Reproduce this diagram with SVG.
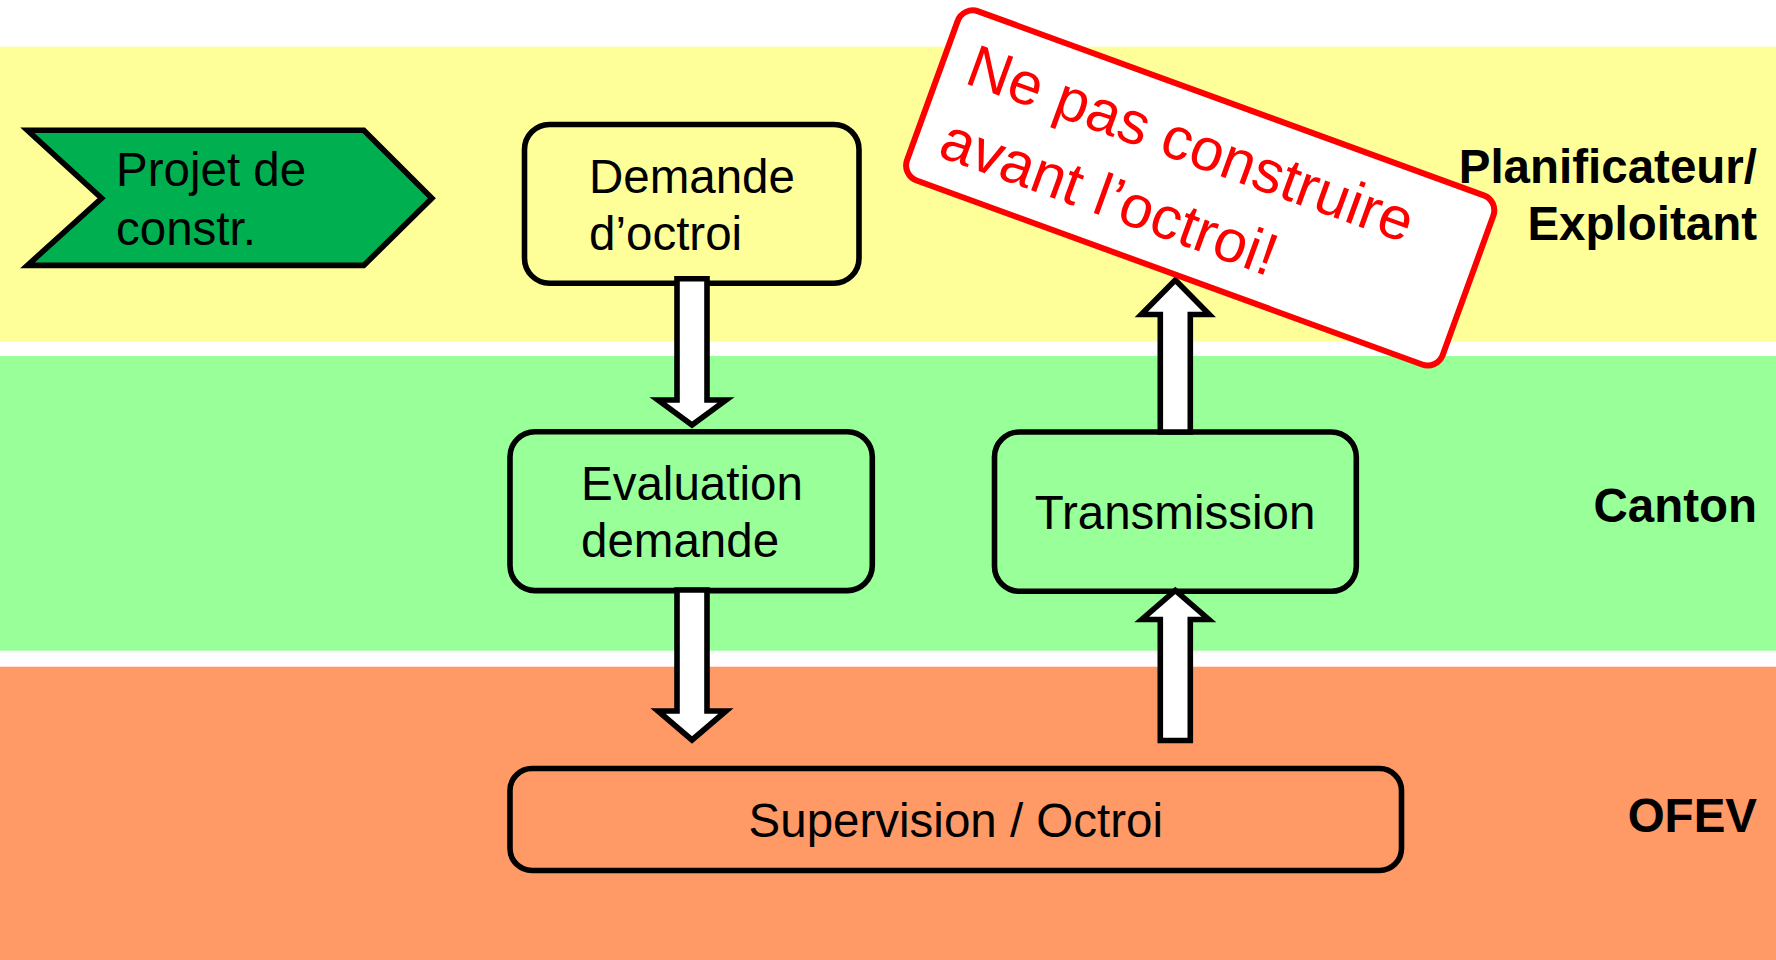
<svg xmlns="http://www.w3.org/2000/svg" width="1776" height="960" viewBox="0 0 1776 960">
  <style>
    .box { stroke: #000; stroke-width: 5.6; }
    .t { font-family: "Liberation Sans", Arial, sans-serif; font-size: 47.5px; fill: #000; }
    .lbl { font-family: "Liberation Sans", Arial, sans-serif; font-size: 47.5px; font-weight: bold; fill: #000; text-anchor: end; }
    .arrow { fill: #fff; stroke: #000; stroke-width: 5.6; stroke-linejoin: miter; }
    .sign { font-family: "Liberation Sans", Arial, sans-serif; font-size: 60px; fill: #ff0000; }
  </style>
  <rect x="0" y="0" width="1776" height="960" fill="#ffffff"/>
  <g id="bands">
    <rect x="0" y="46.7" width="1776" height="295" fill="#ffff99"/>
    <rect x="0" y="356" width="1776" height="294.7" fill="#99ff99"/>
    <rect x="0" y="666.7" width="1776" height="293.3" fill="#ff9966"/>
  </g>
  <g id="lane-labels">
    <text class="lbl" x="1757" y="183.3">Planificateur/</text>
    <text class="lbl" x="1757" y="240">Exploitant</text>
    <text class="lbl" x="1757" y="521.7">Canton</text>
    <text class="lbl" x="1757" y="832.3">OFEV</text>
  </g>
  <g id="node-projet">
    <polygon class="box" fill="#00b050" points="27.4,130.2 363.8,130.2 431.9,198.3 363.8,265.4 27.4,265.4 101.6,198.3"/>
    <text class="t" x="116" y="186">Projet de</text>
    <text class="t" x="116" y="245">constr.</text>
  </g>
  <g id="node-demande">
    <rect class="box" fill="#ffff99" x="524.5" y="124.5" width="334.5" height="158.7" rx="25"/>
    <text class="t" x="589" y="192.7">Demande</text>
    <text class="t" x="589" y="250">d’octroi</text>
  </g>
  <g id="node-evaluation">
    <rect class="box" fill="#99ff99" x="510" y="431.8" width="362.3" height="158.8" rx="25"/>
    <text class="t" x="581" y="500">Evaluation</text>
    <text class="t" x="581" y="556.7">demande</text>
  </g>
  <g id="node-transmission">
    <rect class="box" fill="#99ff99" x="994.5" y="432" width="361.8" height="159.3" rx="25"/>
    <text class="t" x="1175" y="529.3" text-anchor="middle">Transmission</text>
  </g>
  <g id="node-supervision">
    <rect class="box" fill="#ff9966" x="510" y="768.5" width="891.5" height="102" rx="22"/>
    <text class="t" x="955.8" y="837.3" text-anchor="middle">Supervision / Octroi</text>
  </g>
  <g id="connectors">
    <polygon class="arrow" points="677,278.7 707,278.7 707,400 726,400 692,425 658,400 677,400"/>
    <polygon class="arrow" points="677,590 707,590 707,711 726,711 692,740 658,711 677,711"/>
    <polygon class="arrow" points="1160.3,740.5 1190.3,740.5 1190.3,619.5 1208.8,619.5 1175.3,590.5 1141.8,619.5 1160.3,619.5"/>
    <polygon class="arrow" points="1160.3,432 1190.3,432 1190.3,314.5 1209.3,314.5 1175.3,280 1141.3,314.5 1160.3,314.5"/>
  </g>
  <g id="node-warning" transform="translate(1200.2,187.9) rotate(20)">
    <rect x="-285" y="-90" width="570" height="180" rx="16" fill="#ffffff" stroke="#ff0000" stroke-width="6"/>
    <text class="sign" x="-259" y="-18">Ne pas construire</text>
    <text class="sign" x="-259" y="60">avant l’octroi!</text>
  </g>
</svg>
